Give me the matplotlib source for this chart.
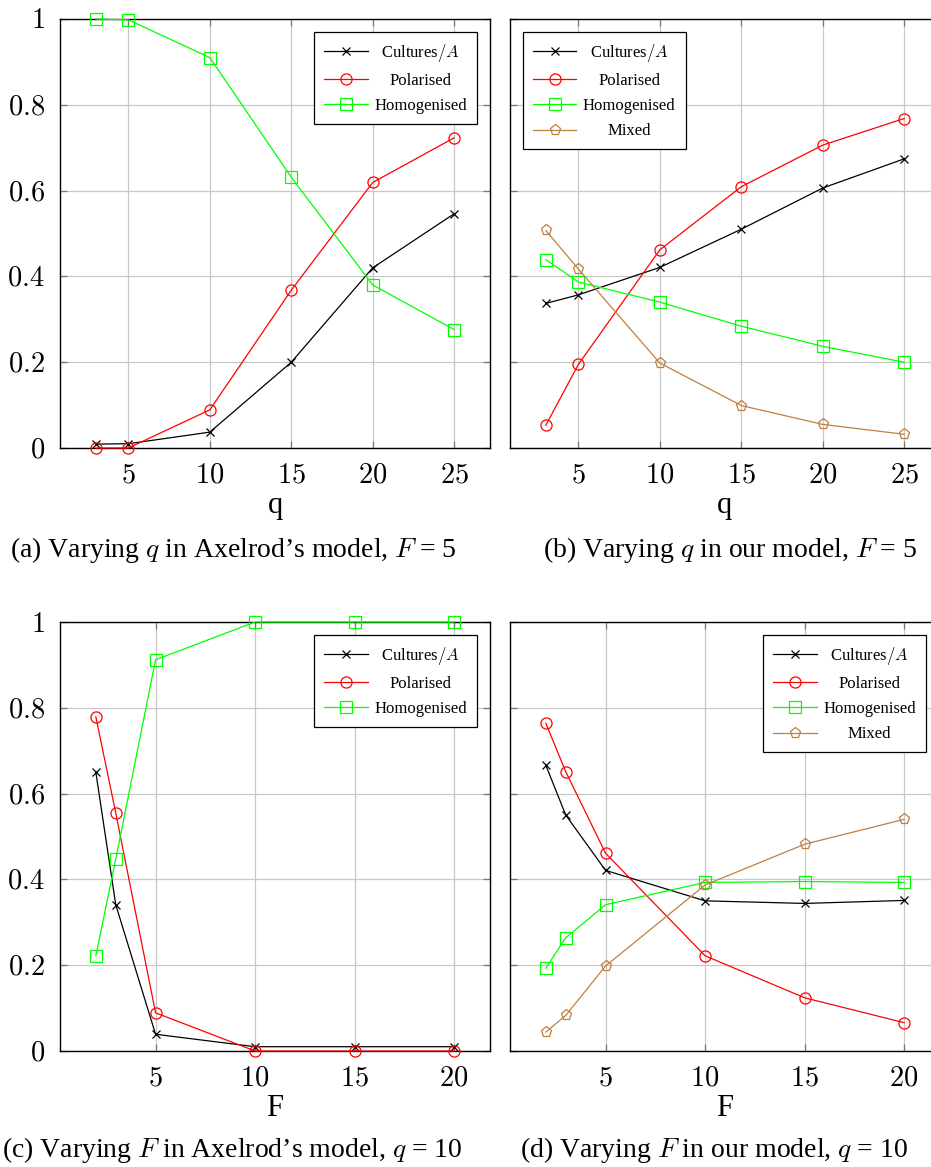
import matplotlib
matplotlib.use("Agg")
import matplotlib.pyplot as plt

plt.rcParams['font.family'] = ['Liberation Serif', 'DejaVu Serif']
plt.rcParams['mathtext.fontset'] = 'cm'

# ---------- data ----------
q_vals = [3, 5, 10, 15, 20, 25]
f_vals = [2, 3, 5, 10, 15, 20]

# (a) Axelrod, varying q, F = 5
a_cultures = [0.009, 0.010, 0.037, 0.200, 0.420, 0.546]
a_polarised = [0.0, 0.0, 0.089, 0.368, 0.619, 0.723]
a_homog = [1.0, 0.998, 0.910, 0.631, 0.380, 0.276]

# (b) our model, varying q, F = 5
b_cultures = [0.337, 0.357, 0.421, 0.510, 0.606, 0.674]
b_polarised = [0.053, 0.195, 0.462, 0.609, 0.706, 0.768]
b_homog = [0.439, 0.387, 0.340, 0.284, 0.237, 0.200]
b_mixed = [0.507, 0.417, 0.198, 0.099, 0.055, 0.032]

# (c) Axelrod, varying F, q = 10
c_cultures = [0.650, 0.341, 0.039, 0.010, 0.010, 0.010]
c_polarised = [0.779, 0.555, 0.089, 0.0, 0.0, 0.0]
c_homog = [0.222, 0.447, 0.912, 1.0, 1.0, 1.0]

# (d) our model, varying F, q = 10
d_cultures = [0.666, 0.550, 0.421, 0.350, 0.344, 0.351]
d_polarised = [0.764, 0.651, 0.461, 0.222, 0.124, 0.066]
d_homog = [0.193, 0.264, 0.341, 0.393, 0.395, 0.393]
d_mixed = [0.044, 0.083, 0.198, 0.387, 0.482, 0.540]

y_ticks = [0, 0.2, 0.4, 0.6, 0.8, 1]
y_ticklabels = ["$0$", "$0.2$", "$0.4$", "$0.6$", "$0.8$", "$1$"]
q_ticks = [5, 10, 15, 20, 25]
f_ticks = [5, 10, 15, 20]

captions = [
    "(a) Varying $q$ in Axelrod\u2019s model, $F$ = 5",
    "(b) Varying $q$ in our model, $F$ = 5",
    "(c) Varying $F$ in Axelrod\u2019s model, $q$ = 10",
    "(d) Varying $F$ in our model, $q$ = 10",
]

labels = ["Cultures$/A$", "Polarised", "Homogenised", "Mixed"]
colors = ["black", "#ff0000", "#00ff00", "#bf8040"]
markers = ["x", "o", "s", "p"]

# ---------- figure ----------
W, H = 931, 1167
fig = plt.figure(figsize=(W / 100, H / 100), dpi=100)


def px_axes(left, top, width, height):
    return fig.add_axes([left / W, 1 - (top + height) / H, width / W, height / H])


def draw_panel(ax, x, series, xticks, xlabel, legend_loc, anchor, ylabels=True):
    for i, ys in enumerate(series):
        ax.plot(x, ys, color=colors[i], marker=markers[i], markersize=8 if i else 6,
                markerfacecolor='none', markeredgewidth=0.9, linewidth=0.9,
                label=labels[i], clip_on=False, zorder=3)
    span = x[-1] - x[0]
    ax.set_xlim(x[0] - 0.1 * span, x[-1] + 0.1 * span)
    ax.set_ylim(0, 1)
    ax.set_xticks(xticks)
    ax.set_xticklabels(["$%d$" % t for t in xticks])
    ax.set_yticks(y_ticks)
    ax.set_yticklabels(y_ticklabels if ylabels else [])
    ax.grid(True, color='#c8c8c8', linewidth=0.9)
    ax.set_axisbelow(True)
    ax.tick_params(direction='in', length=5, width=0.9, color='#777777',
                   top=True, right=True, labelsize=20.5, pad=11)
    for s in ax.spines.values():
        s.set_linewidth(1.0)
    ax.set_xlabel(xlabel, fontsize=22, labelpad=2)
    leg = ax.legend(loc=legend_loc, bbox_to_anchor=anchor, fontsize=12, frameon=True,
                    fancybox=False, edgecolor='black', framealpha=1, borderaxespad=0,
                    handlelength=2.6, handletextpad=0.4, labelspacing=0.55,
                    borderpad=0.6)
    leg.get_frame().set_linewidth(0.9)
    return leg


ax_a = px_axes(60, 19, 430, 429)
ax_b = px_axes(510, 19, 430, 429)
ax_c = px_axes(60, 622, 430, 429)
ax_d = px_axes(510, 622, 430, 429)

legs = []
legs.append(draw_panel(ax_a, q_vals, [a_cultures, a_polarised, a_homog], q_ticks, "q",
                       "upper right", (0.970, 0.970)))
legs.append(draw_panel(ax_b, q_vals, [b_cultures, b_polarised, b_homog, b_mixed], q_ticks, "q",
                       "upper left", (0.030, 0.970), ylabels=False))
legs.append(draw_panel(ax_c, f_vals, [c_cultures, c_polarised, c_homog], f_ticks, "F",
                       "upper right", (0.970, 0.970)))
legs.append(draw_panel(ax_d, f_vals, [d_cultures, d_polarised, d_homog, d_mixed], f_ticks, "F",
                       "upper right", (0.967, 0.970), ylabels=False))

# centre legend texts within their column
fig.canvas.draw()
renderer = fig.canvas.get_renderer()
for leg in legs:
    texts = leg.get_texts()
    widths = [t.get_window_extent(renderer).width for t in texts]
    wmax = max(widths)
    for t, w in zip(texts, widths):
        t.set_x((wmax - w) / 2)

# captions
fig.text(233 / W, 1 - 550 / H, captions[0], ha='center', va='center', fontsize=20)
fig.text(730 / W, 1 - 550 / H, captions[1], ha='center', va='center', fontsize=20)
fig.text(232 / W, 1 - 1150 / H, captions[2], ha='center', va='center', fontsize=20)
fig.text(714 / W, 1 - 1150 / H, captions[3], ha='center', va='center', fontsize=20)

fig.savefig("out.png", dpi=100)
